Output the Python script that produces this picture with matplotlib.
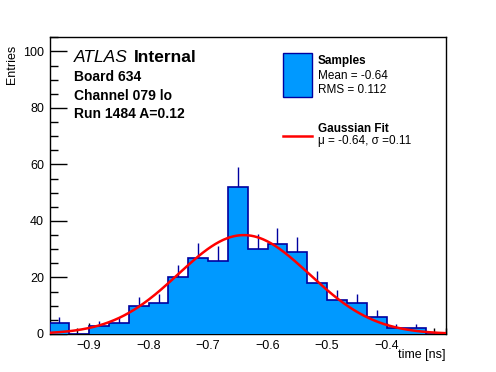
import numpy as np
import matplotlib
matplotlib.use("Agg")
import matplotlib.pyplot as plt
from matplotlib.ticker import MultipleLocator

plt.rcParams['font.family'] = ['Liberation Sans', 'DejaVu Sans']

# ---- data ----
bin_lo = -0.8 - 5 / 30.0
bin_hi = -0.3
n_bins = 20
counts = [4, 0, 3, 4, 10, 11, 20, 27, 26, 52, 30, 32, 29, 18, 12, 11, 6, 2, 2, 0]
fit_mu = -0.64
fit_sigma = 0.11
fit_amp = 35.0
x_ticks = [-0.9, -0.8, -0.7, -0.6, -0.5, -0.4]
y_ticks = [0, 20, 40, 60, 80, 100]

edges = np.linspace(bin_lo, bin_hi, n_bins + 1)
counts = np.array(counts, dtype=float)
centers = 0.5 * (edges[:-1] + edges[1:])

W, H = 496, 372
fig = plt.figure(figsize=(W / 100, H / 100), dpi=100)
L, R, T, B = 49.5, 446, 37.3, 334
ax = fig.add_axes([L / W, 1 - B / H, (R - L) / W, (B - T) / H])

fill_c = '#0099ff'
edge_c = '#0000a0'

# error bars (upper half only visible)
mask = counts > 0
ax.vlines(centers[mask], counts[mask], counts[mask] + np.sqrt(counts[mask]),
          color=edge_c, lw=1.0, zorder=2)
ax.stairs(counts, edges, fill=True, color=fill_c, zorder=3)
ax.stairs(counts, edges, fill=False, color=edge_c, lw=1.2, zorder=4)

xf = np.linspace(bin_lo, bin_hi, 400)
yf = fit_amp * np.exp(-0.5 * ((xf - fit_mu) / fit_sigma) ** 2)
ax.plot(xf, yf, color='#ff0000', lw=1.8, zorder=5)

ax.set_xlim(bin_lo, bin_hi)
ax.set_ylim(0, 105)
ax.set_xticks(x_ticks)
ax.set_yticks(y_ticks)
ax.xaxis.set_minor_locator(MultipleLocator(0.02))
ax.yaxis.set_minor_locator(MultipleLocator(5))
ax.tick_params(axis='x', which='major', direction='in', length=8, width=1, labelsize=9, pad=4)
ax.tick_params(axis='x', which='minor', direction='in', length=4, width=1)
ax.tick_params(axis='y', which='major', direction='in', length=12, width=1, labelsize=9, pad=4)
ax.tick_params(axis='y', which='minor', direction='in', length=6, width=1)
for s in ax.spines.values():
    s.set_linewidth(1.0)

fig.text(R / W, 1 - 355 / H, 'time [ns]', ha='right', va='center', fontsize=9)
fig.text(12 / W, 1 - 45 / H, 'Entries', ha='center', va='top', rotation=90, fontsize=9)

# annotations
fig.text(73.5 / W, 1 - 57 / H, 'ATLAS', style='italic', fontsize=12.5, ha='left', va='center')
fig.text(134 / W, 1 - 57 / H, 'Internal', weight='bold', fontsize=12.5, ha='left', va='center')
fig.text(74 / W, 1 - 76.7 / H, 'Board 634', weight='bold', fontsize=10, ha='left', va='center')
fig.text(74 / W, 1 - 95.7 / H, 'Channel 079 lo', weight='bold', fontsize=10, ha='left', va='center')
fig.text(74 / W, 1 - 114.3 / H, 'Run 1484 A=0.12', weight='bold', fontsize=10, ha='left', va='center')

# legend
from matplotlib.patches import Rectangle
from matplotlib.lines import Line2D
fig.add_artist(Rectangle((283.3 / W, 1 - 96.7 / H), (311.7 - 283.3) / W, (96.7 - 53.3) / H,
                         transform=fig.transFigure, facecolor=fill_c, edgecolor=edge_c, lw=1.0))
fig.add_artist(Line2D([283.3 / W, 311.7 / W], [1 - 136 / H, 1 - 136 / H],
                      transform=fig.transFigure, color='#ff0000', lw=1.8))
fig.text(317.5 / W, 1 - 61 / H, 'Samples', weight='bold', fontsize=8.5, ha='left', va='center')
fig.text(317.5 / W, 1 - 76 / H, 'Mean = -0.64', fontsize=8.5, ha='left', va='center')
fig.text(317.5 / W, 1 - 90 / H, 'RMS = 0.112', fontsize=8.5, ha='left', va='center')
fig.text(317.5 / W, 1 - 129.3 / H, 'Gaussian Fit', weight='bold', fontsize=8.5, ha='left', va='center')
fig.text(317.5 / W, 1 - 141 / H, 'μ = -0.64, σ =0.11', fontsize=8.5, ha='left', va='center')

fig.savefig('out.png', dpi=100)
